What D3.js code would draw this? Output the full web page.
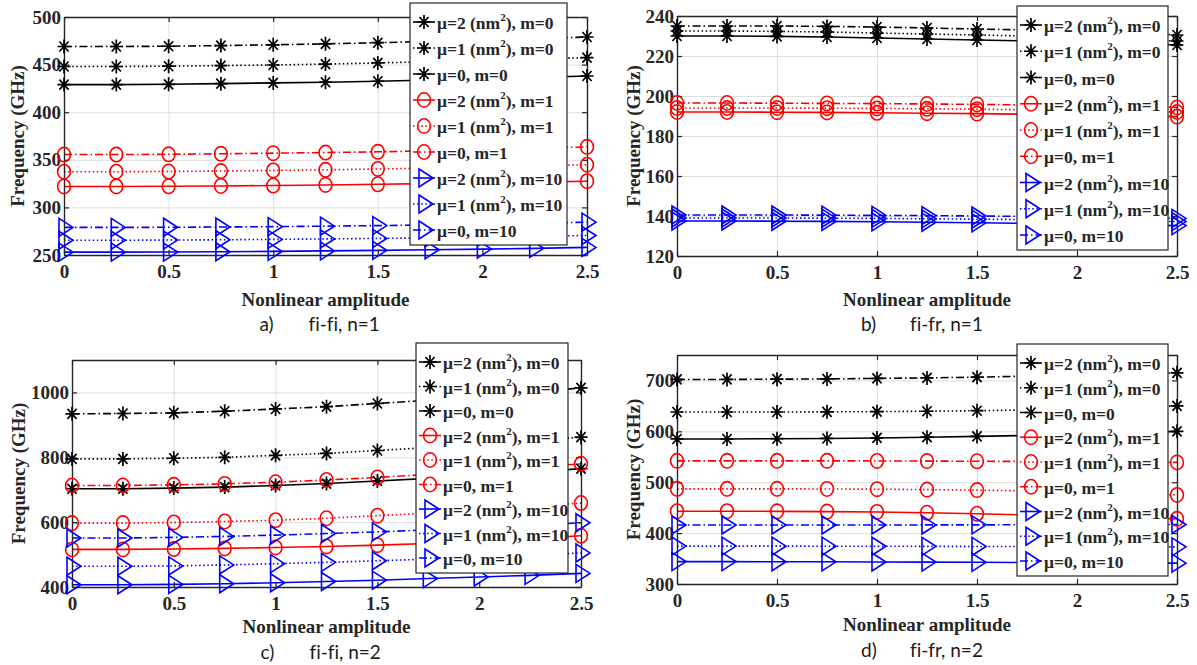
<!DOCTYPE html>
<html>
<head>
<meta charset="utf-8">
<script src="https://cdn.jsdelivr.net/npm/d3@7"></script>
<style>
  body { margin: 0; background: #fff; }
  svg text { font-family: "Liberation Serif", "Times New Roman", "DejaVu Serif", serif; font-weight: bold; fill: #262626; }
  svg text.caption { font-family: Lato, "Open Sans", sans-serif; font-weight: normal; fill: #1a1a1a; font-variant-ligatures: none; }
</style>
</head>
<body>
<svg id="chart" width="1197" height="665"></svg>
<script>
// ---------------------------------
// DATA
// ---------------------------------
var amplitude = [0, 0.25, 0.5, 0.75, 1, 1.25, 1.5, 1.75, 2, 2.25, 2.5];
var xTicks = [0, 0.5, 1, 1.5, 2, 2.5];

// legend parts, order of the series in every panel
var muNames = ['μ=2', 'μ=1', 'μ=0'];
var muHasUnit = [true, true, false];
var modeNames = ['m=0', 'm=1', 'm=10'];

// order: m=0 (μ=2, μ=1, μ=0), m=1 (...), m=10 (...)
var fiFiN1 = [
  [429, 429, 429.3, 430, 430.8, 431.5, 432.5, 433.8, 435, 436.5, 438],
  [448, 448, 448.3, 449, 449.6, 450.5, 451.8, 453, 454.4, 455.8, 457.3],
  [469, 469, 469.3, 470, 470.8, 471.8, 473, 474.3, 475.7, 477.3, 479],
  [322, 322, 322.2, 322.5, 323, 323.6, 324.3, 325, 325.8, 326.6, 327.5],
  [337.5, 337.5, 337.7, 338.2, 338.8, 339.5, 340.4, 341.3, 342.3, 343.5, 344.8],
  [355.5, 355.5, 355.8, 356.3, 357, 357.6, 358.4, 359.4, 360.6, 362, 363.6],
  [253, 253, 253.1, 253.4, 253.8, 254.3, 254.9, 255.5, 256.2, 257, 258],
  [265.5, 265.5, 265.7, 266, 266.4, 266.9, 267.4, 268, 268.7, 269.5, 270.5],
  [279, 279, 279.1, 279.4, 279.8, 280.3, 280.9, 281.6, 282.4, 283.4, 284.5]
];
var fiFrN1 = [
  [230, 230, 229.8, 229.5, 229, 228.5, 228, 227.5, 227, 226.5, 225.5],
  [232.5, 232.5, 232.3, 232, 231.5, 231, 230.5, 230, 229.5, 228.5, 227.5],
  [235, 235, 235, 234.8, 234.5, 234, 233.5, 233, 232.5, 231.5, 230.5],
  [192, 192, 191.9, 191.8, 191.6, 191.4, 191.2, 190.9, 190.6, 190.2, 189.7],
  [194, 194, 194, 193.9, 193.8, 193.6, 193.4, 193.1, 192.8, 192.4, 192],
  [196.5, 196.5, 196.4, 196.3, 196.2, 196, 195.8, 195.5, 195.2, 194.8, 194.3],
  [137.5, 137.5, 137.4, 137.3, 137.1, 136.9, 136.6, 136.3, 136, 135.6, 135.2],
  [139, 139, 139, 138.9, 138.8, 138.6, 138.4, 138.2, 137.9, 137.6, 137.2],
  [140.5, 140.5, 140.5, 140.4, 140.3, 140.2, 140, 139.8, 139.5, 139.2, 138.8]
];
var fiFiN2 = [
  [703, 703, 705, 708, 713, 719, 727, 735, 744, 754, 765],
  [795, 795, 797, 800, 806, 812, 821, 830, 840, 850, 862],
  [934, 935, 937, 942, 949, 956, 966, 976, 988, 1000, 1014],
  [516, 516, 517, 519, 522, 525, 529, 534, 540, 548, 558],
  [597, 597, 599, 602, 606, 612, 620, 628, 638, 648, 659],
  [713, 713, 715, 718, 723, 730, 738, 747, 757, 768, 780],
  [407, 407, 408, 410, 413, 417, 421, 426, 431, 436, 442],
  [464, 464, 465, 468, 472, 476, 481, 486, 492, 498, 505],
  [551, 551, 553, 556, 560, 565, 570, 576, 583, 590, 598]
];
var fiFrN2 = [
  [585, 585, 585.5, 586, 587, 588.5, 590, 592, 594.5, 597, 600],
  [638, 638, 638, 638.3, 638.7, 639.5, 640.5, 642, 644, 647, 650],
  [702, 702, 702.5, 703, 704, 705, 706.5, 708.5, 710.5, 712.5, 715],
  [443, 443, 442.8, 442.3, 441.5, 440, 438, 435.5, 433, 430.5, 428],
  [487, 487, 487, 486.7, 486.3, 485.5, 484.5, 483, 481, 478, 475],
  [542, 542, 542, 542, 541.8, 541.5, 541.2, 540.8, 540.3, 539.7, 539],
  [344, 344, 343.8, 343.6, 343.3, 343, 342.6, 342.2, 341.8, 341.4, 341],
  [374.5, 374.5, 374.4, 374.3, 374.2, 374, 373.8, 373.6, 373.4, 373.2, 373],
  [416, 416, 416, 416, 416, 416.1, 416.2, 416.4, 416.6, 416.8, 417]
];

var yTicksA = [250, 300, 350, 400, 450, 500];
var yTicksB = [120, 140, 160, 180, 200, 220, 240];
var yTicksC = [400, 600, 800, 1000];
var yTicksD = [300, 400, 500, 600, 700];

// ---------------------------------
// STYLE
// ---------------------------------
var serif = '"Liberation Serif", "Times New Roman", "DejaVu Serif", serif';
var modeColors = ['#000000', '#ff0000', '#0000ff'];
var muDash = ['none', '1.5,2.6', '8,3,1.5,3']; // solid, dotted, dash-dot
var frameColor = '#262626';
var gridColor = '#dedede';

var panels = [
  { data: fiFiN1, yDomain: [250, 500], yTicks: yTicksA, left: 64, right: 587, top: 17, bottom: 255,
    yLabelX: 24, titleY: 306, captionY: 331,
    legend: { x: 410, y: 3, w: 157, h: 242 }, tag: 'a)', caption: 'fi-fi, n=1' },
  { data: fiFrN1, yDomain: [120, 240], yTicks: yTicksB, left: 677, right: 1177, top: 16, bottom: 256,
    yLabelX: 640, titleY: 306, captionY: 331,
    legend: { x: 1017, y: 6, w: 151, h: 244 }, tag: 'b)', caption: 'fi-fr, n=1' },
  { data: fiFiN2, yDomain: [400, 1100], yTicks: yTicksC, left: 72, right: 581, top: 360, bottom: 587,
    yLabelX: 25, titleY: 633, captionY: 659,
    legend: { x: 416, y: 343, w: 152, h: 230 }, tag: 'c)', caption: 'fi-fi, n=2' },
  { data: fiFrN2, yDomain: [300, 750], yTicks: yTicksD, left: 677, right: 1177, top: 355, bottom: 584,
    yLabelX: 640, titleY: 631, captionY: 657,
    legend: { x: 1017, y: 344, w: 151, h: 232 }, tag: 'd)', caption: 'fi-fr, n=2' }
];

var svg = d3.select('#chart');

// marker shapes, drawn around (0,0)
function drawMarker(sel, mode, color) {
  if (mode === 0) {
    sel.append('path')
      .attr('d', 'M0,-7V7M-6.5,0H6.5M-4.6,-5L4.6,5M-4.6,5L4.6,-5')
      .attr('stroke', color).attr('stroke-width', 1.7).attr('fill', 'none');
  } else if (mode === 1) {
    sel.append('ellipse').attr('rx', 6.4).attr('ry', 7.2)
      .attr('stroke', color).attr('stroke-width', 1.6).attr('fill', 'none');
  } else {
    sel.append('path')
      .attr('d', 'M-5,-9L9,0L-5,9Z')
      .attr('stroke', color).attr('stroke-width', 1.6).attr('fill', 'none');
  }
}

function drawPanel(p) {
  var x = d3.scaleLinear().domain([0, 2.5]).range([p.left, p.right]);
  var y = d3.scaleLinear().domain(p.yDomain).range([p.bottom, p.top]);
  var w = p.right - p.left, h = p.bottom - p.top;
  var g = svg.append('g');

  // grid
  g.append('g').attr('transform', 'translate(0,' + p.bottom + ')')
    .call(d3.axisBottom(x).tickValues(xTicks).tickSize(-h).tickFormat(''))
    .call(function (s) { s.select('.domain').remove(); s.selectAll('line').attr('stroke', gridColor); });
  g.append('g').attr('transform', 'translate(' + p.left + ',0)')
    .call(d3.axisLeft(y).tickValues(p.yTicks).tickSize(-w).tickFormat(''))
    .call(function (s) { s.select('.domain').remove(); s.selectAll('line').attr('stroke', gridColor); });

  // lines
  var line = d3.line().x(function (d, i) { return x(amplitude[i]); }).y(function (d) { return y(d); });
  p.data.forEach(function (vals, k) {
    var mode = Math.floor(k / 3), mu = k % 3;
    g.append('path').attr('d', line(vals))
      .attr('fill', 'none').attr('stroke', modeColors[mode]).attr('stroke-width', 1.6)
      .attr('stroke-dasharray', muDash[mu] === 'none' ? null : muDash[mu]);
  });

  // frame + inward ticks on all sides
  var bottomAx = d3.axisBottom(x).tickValues(xTicks).tickSizeInner(-5).tickSizeOuter(0).tickPadding(10)
    .tickFormat(d3.format('~g'));
  var topAx = d3.axisTop(x).tickValues(xTicks).tickSizeInner(-5).tickSizeOuter(0).tickFormat('');
  var leftAx = d3.axisLeft(y).tickValues(p.yTicks).tickSizeInner(-5).tickSizeOuter(0).tickPadding(3)
    .tickFormat(d3.format('d'));
  var rightAx = d3.axisRight(y).tickValues(p.yTicks).tickSizeInner(-5).tickSizeOuter(0).tickFormat('');

  function styleAxis(s) {
    s.attr('font-family', serif).attr('font-size', 19);
    s.select('.domain').attr('stroke', frameColor).attr('stroke-width', 1.4);
    s.selectAll('.tick line').attr('stroke', frameColor).attr('stroke-width', 1.2);
    s.selectAll('.tick text').attr('font-family', serif).attr('font-weight', 'bold')
      .attr('font-size', 19).attr('fill', frameColor);
  }
  g.append('g').attr('transform', 'translate(0,' + p.bottom + ')').call(bottomAx).call(styleAxis);
  g.append('g').attr('transform', 'translate(0,' + p.top + ')').call(topAx).call(styleAxis);
  g.append('g').attr('transform', 'translate(' + p.left + ',0)').call(leftAx).call(styleAxis);
  g.append('g').attr('transform', 'translate(' + p.right + ',0)').call(rightAx).call(styleAxis);

  // markers (not clipped, like the original)
  p.data.forEach(function (vals, k) {
    var mode = Math.floor(k / 3);
    vals.forEach(function (v, i) {
      var m = g.append('g').attr('transform', 'translate(' + x(amplitude[i]) + ',' + y(v) + ')');
      drawMarker(m, mode, modeColors[mode]);
    });
  });

  // axis titles
  g.append('text')
    .attr('x', (p.left + p.right) / 2).attr('y', p.titleY)
    .attr('text-anchor', 'middle').attr('font-family', serif).attr('font-size', 19)
    .text('Nonlinear amplitude');
  g.append('text')
    .attr('transform', 'translate(' + p.yLabelX + ',' + ((p.top + p.bottom) / 2) + ') rotate(-90)')
    .attr('text-anchor', 'middle').attr('font-family', serif).attr('font-size', 19)
    .text('Frequency (GHz)');

  // caption below the panel
  var cx = (p.left + p.right) / 2;
  g.append('text').attr('class', 'caption')
    .attr('x', cx - 66).attr('y', p.captionY).attr('font-size', 19).text(p.tag);
  g.append('text').attr('class', 'caption')
    .attr('x', cx - 17).attr('y', p.captionY).attr('font-size', 19).text(p.caption);

  // legend
  var L = p.legend;
  var lg = g.append('g').attr('transform', 'translate(' + L.x + ',' + L.y + ')');
  lg.append('rect').attr('width', L.w).attr('height', L.h)
    .attr('fill', '#fff').attr('stroke', frameColor).attr('stroke-width', 1.2);
  var step = (L.h - 34) / 8;
  for (var k = 0; k < 9; k++) {
    var mode = Math.floor(k / 3), mu = k % 3;
    var ry = 19 + k * step;
    var row = lg.append('g').attr('transform', 'translate(0,' + ry + ')');
    row.append('line').attr('x1', 3).attr('x2', 25).attr('y1', 0).attr('y2', 0)
      .attr('stroke', modeColors[mode]).attr('stroke-width', 1.6)
      .attr('stroke-dasharray', muDash[mu] === 'none' ? null : muDash[mu]);
    var mk = row.append('g').attr('transform', 'translate(14,0)');
    drawMarker(mk, mode, modeColors[mode]);
    var t = row.append('text').attr('x', 27).attr('y', 7)
      .attr('font-family', serif).attr('font-size', 17.5);
    if (muHasUnit[mu]) {
      t.append('tspan').text(muNames[mu] + ' (nm');
      t.append('tspan').attr('dy', -8).attr('font-size', 11).text('2');
      t.append('tspan').attr('dy', 8).text('), ' + modeNames[mode]);
    } else {
      t.append('tspan').text(muNames[mu] + ', ' + modeNames[mode]);
    }
  }
}

panels.forEach(drawPanel);
</script>
</body>
</html>
